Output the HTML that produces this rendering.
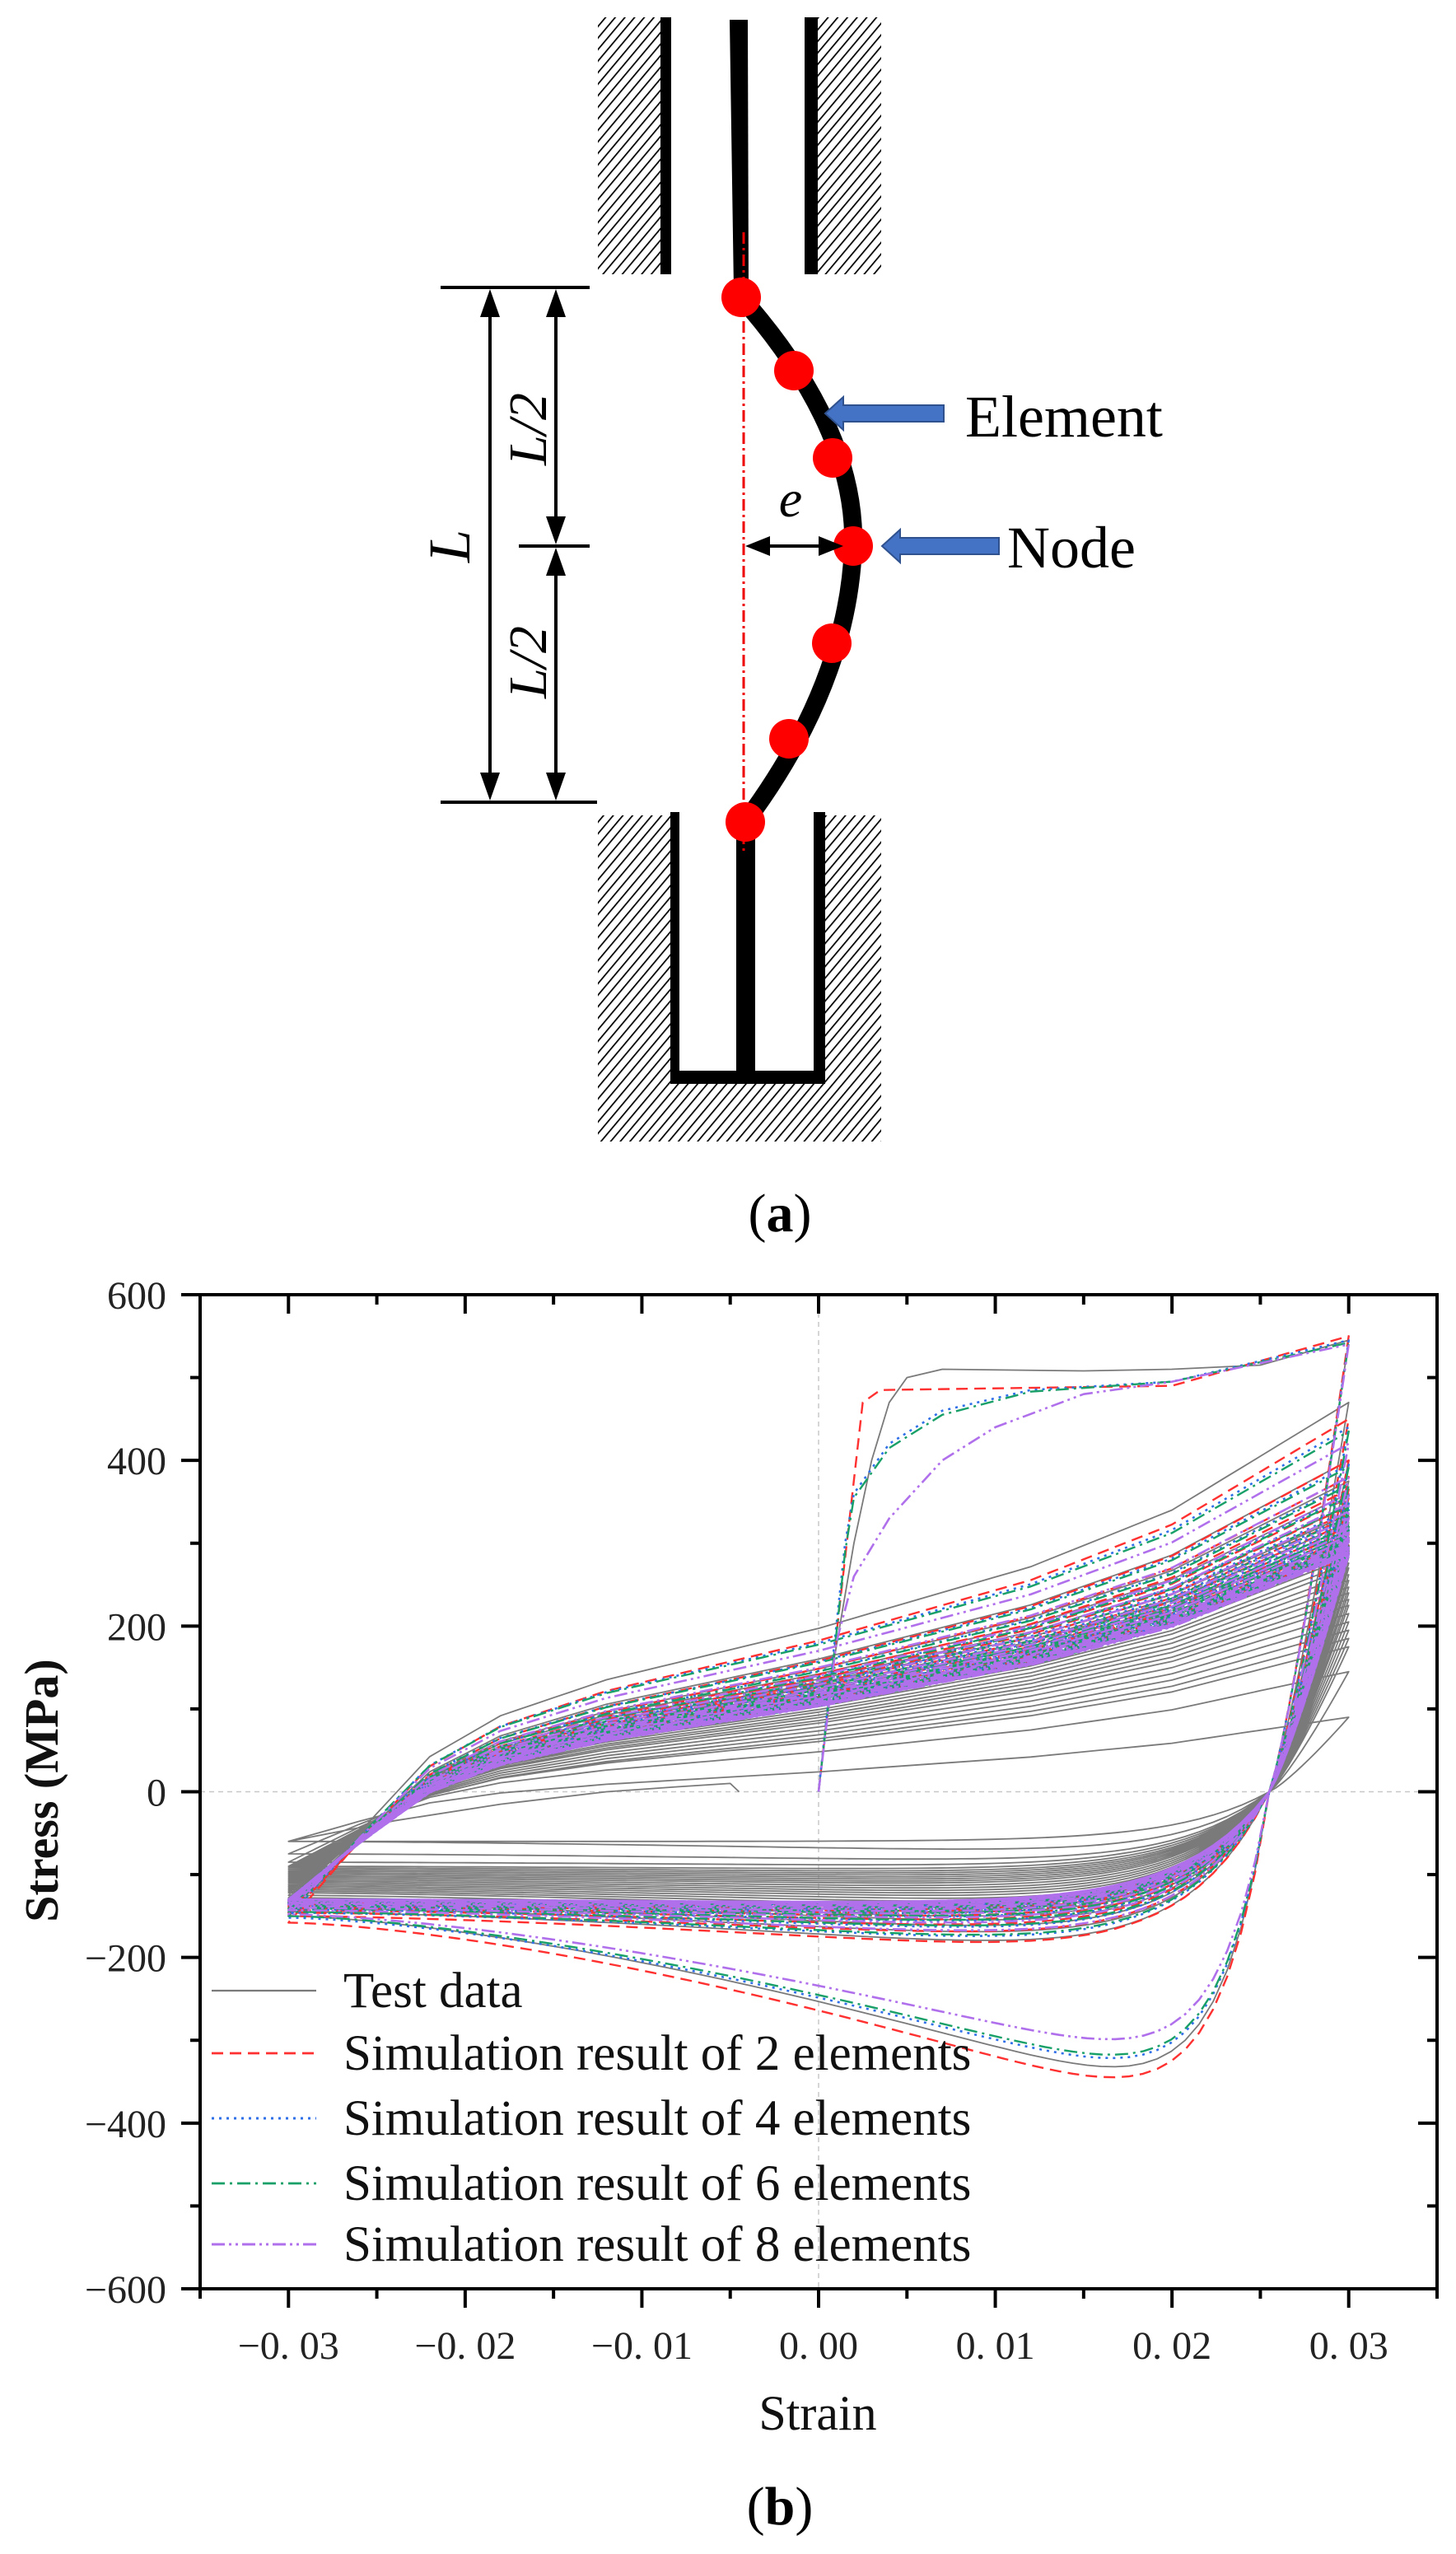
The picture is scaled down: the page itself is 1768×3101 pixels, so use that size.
<!DOCTYPE html>
<html><head><meta charset="utf-8"><title>Buckling element model and hysteresis</title>
<style>html,body{margin:0;padding:0;background:#fff}svg{display:block}</style></head>
<body>
<svg id="fig" width="1768" height="3101" viewBox="0 0 1768 3101" xmlns="http://www.w3.org/2000/svg">
<defs>
<pattern id="hatch" patternUnits="userSpaceOnUse" width="9" height="9" patternTransform="rotate(40)">
<rect width="9" height="9" fill="#fff"/><line x1="0" y1="0" x2="0" y2="9" stroke="#000" stroke-width="3.5"/>
</pattern>
</defs>
<rect width="1768" height="3101" fill="#fff"/>

<!-- Panel (a) -->
<g>
<rect x="726" y="21" width="78" height="312" fill="url(#hatch)"/>
<rect x="993" y="21" width="77" height="312" fill="url(#hatch)"/>
<rect x="802" y="21" width="13" height="312" fill="#000"/>
<rect x="977" y="21" width="16" height="312" fill="#000"/>
<polygon points="886,24 908,24 909,352 891,352" fill="#000"/>
<rect x="726" y="990" width="344" height="396" fill="url(#hatch)"/>
<rect x="824" y="980" width="164" height="320" fill="#fff"/>
<rect x="814" y="986" width="11" height="330" fill="#000"/>
<rect x="988" y="986" width="14" height="330" fill="#000"/>
<rect x="814" y="1300" width="188" height="16" fill="#000"/>
<rect x="894" y="998" width="23" height="310" fill="#000"/>
<path d="M900 361 Q 1040 520 1036 663 Q 1030 830 905 998" fill="none" stroke="#000" stroke-width="22"/>
<line x1="903" y1="282" x2="903" y2="1034" stroke="#e00" stroke-width="3" stroke-dasharray="14,5,3,5"/>
<g fill="#ff0000">
<circle cx="900" cy="361" r="24"/>
<circle cx="964" cy="450" r="24"/>
<circle cx="1011" cy="556" r="24"/>
<circle cx="1036" cy="663" r="24"/>
<circle cx="1010" cy="781" r="24"/>
<circle cx="958" cy="897" r="24"/>
<circle cx="905" cy="998" r="24"/>
</g>
<g stroke="#000" stroke-width="4">
<line x1="535" y1="349" x2="716" y2="349"/>
<line x1="535" y1="974" x2="725" y2="974"/>
<line x1="630" y1="663" x2="716" y2="663"/>
<line x1="595" y1="360" x2="595" y2="963"/>
<line x1="675" y1="360" x2="675" y2="652"/>
<line x1="675" y1="674" x2="675" y2="963"/>
<line x1="915" y1="663" x2="1015" y2="663"/>
</g>
<g fill="#000">
<polygon points="595,351 583,385 607,385"/><polygon points="595,972 583,938 607,938"/>
<polygon points="675,351 663,385 687,385"/><polygon points="675,661 663,627 687,627"/>
<polygon points="675,665 663,699 687,699"/><polygon points="675,972 663,938 687,938"/>
<polygon points="905,663 935,651 935,675"/><polygon points="1024,663 994,651 994,675"/>
</g>
<text transform="translate(570,663) rotate(-90)" text-anchor="middle" font-family="Liberation Serif, serif" font-style="italic" font-size="72">L</text>
<text transform="translate(663,521) rotate(-90)" text-anchor="middle" font-family="Liberation Serif, serif" font-style="italic" font-size="66">L/2</text>
<text transform="translate(663,804) rotate(-90)" text-anchor="middle" font-family="Liberation Serif, serif" font-style="italic" font-size="66">L/2</text>
<text x="960" y="627" text-anchor="middle" font-family="Liberation Serif, serif" font-style="italic" font-size="64">e</text>
<polygon points="1002,502 1024,482 1024,492 1146,492 1146,512 1024,512 1024,522" fill="#4472c4" stroke="#2f528f" stroke-width="2"/>
<polygon points="1071,663 1093,643 1093,653 1213,653 1213,673 1093,673 1093,683" fill="#4472c4" stroke="#2f528f" stroke-width="2"/>
<text x="1172" y="530" font-family="Liberation Serif, serif" font-size="72">Element</text>
<text x="1223" y="689" font-family="Liberation Serif, serif" font-size="72">Node</text>
<text x="947" y="1495" text-anchor="middle" font-family="Liberation Serif, serif" font-size="66">(<tspan font-weight="bold">a</tspan>)</text>
</g>

<!-- Panel (b) -->
<g id="chart"></g>
<text x="947" y="3065" text-anchor="middle" font-family="Liberation Serif, serif" font-size="66">(<tspan font-weight="bold">b</tspan>)</text>
</svg>
<script>
// ---- chart data ----
const xTicks = [-0.03, -0.02, -0.01, 0.00, 0.01, 0.02, 0.03];
const xTickLabels = ["\u22120. 03", "\u22120. 02", "\u22120. 01", "0. 00", "0. 01", "0. 02", "0. 03"];
const yTicks = [600, 400, 200, 0, -200, -400, -600];
const yTickLabels = ["600", "400", "200", "0", "\u2212200", "\u2212400", "\u2212600"];
const seriesNames = ["Test data", "Simulation result of 2 elements", "Simulation result of 4 elements", "Simulation result of 6 elements", "Simulation result of 8 elements"];

// monotonic first loading [strain, stress]
const testMono = [[0,0],[0.0008,150],[0.002,300],[0.003,400],[0.004,470],[0.005,500],[0.007,510],[0.015,508],[0.02,510],[0.025,515],[0.03,545]];
const sim2Mono = [[0,0],[0.0025,470],[0.0035,485],[0.02,490],[0.03,550]];
const sim4Mono = [[0,0],[0.001,200],[0.0015,300],[0.002,360],[0.004,420],[0.007,460],[0.012,485],[0.02,495],[0.03,545]];
const sim6Mono = [[0,0],[0.001,190],[0.0015,290],[0.002,355],[0.004,415],[0.007,455],[0.012,483],[0.02,495],[0.03,542]];
const sim8Mono = [[0,0],[0.001,180],[0.002,260],[0.004,330],[0.007,400],[0.01,440],[0.015,480],[0.02,495],[0.03,540]];

// stress at strain 0.03 for each cycle (first = end of monotonic loading)
const testPeaks = [545,470,400,375,360,345,335,325,315,305,298,290,283,276,270,262,255,247,240,232,225,215,205,195,185,175,145,90];
const sim2Peaks = [550,450,400,380,365,355,345,338,332,326,320,315,311,307,303,300,297,295,293,291,290,289,288];
const sim4Peaks = [545,440,395,372,358,348,340,333,327,321,316,312,308,305,302,299,297,295,293,291,290,289,288];
const sim6Peaks = [542,435,392,370,356,346,338,331,325,320,315,311,307,304,301,298,296,294,292,290,289,288,287];
const sim8Peaks = [540,420,380,360,348,338,330,324,318,313,309,305,302,299,297,295,293,291,290,289,288,287,286];

// compression plateau level of each unloading branch
const testLow = [-410,-215,-200,-190,-182,-175,-168,-162,-156,-150,-145,-140,-136,-132,-128,-124,-120,-117,-114,-111,-108,-105,-102,-98,-94,-90,-80,-60];
const sim2Low = [-425,-215,-195,-182,-172,-165,-160,-156,-153,-150,-148,-146,-145,-144,-143,-142,-142,-141,-141,-140,-140,-140,-140];
const sim4Low = [-395,-205,-188,-176,-168,-162,-157,-154,-151,-149,-147,-146,-145,-144,-143,-142,-142,-141,-141,-140,-140,-140,-140];
const sim6Low = [-390,-203,-186,-175,-167,-161,-157,-153,-151,-149,-147,-145,-144,-143,-142,-142,-141,-141,-140,-140,-140,-140,-140];
const sim8Low = [-365,-195,-180,-170,-163,-158,-154,-151,-149,-147,-145,-144,-143,-142,-141,-141,-140,-140,-140,-139,-139,-139,-139];

// stress at strain -0.03 at the end of each unloading branch
const testStart = [-150,-145,-140,-135,-130,-128,-125,-122,-120,-118,-116,-114,-112,-110,-108,-106,-104,-102,-100,-98,-96,-94,-92,-90,-85,-75,-60,-60];
const sim2Start = [-158,-150,-146,-143,-141,-139,-137,-136,-135,-134,-133,-132,-132,-131,-131,-130,-130,-130,-130,-130,-130,-130,-130];
const sim4Start = [-152,-146,-142,-140,-138,-136,-135,-134,-133,-132,-132,-131,-131,-130,-130,-130,-130,-130,-130,-130,-130,-130,-130];
const sim6Start = [-150,-145,-141,-139,-137,-136,-135,-134,-133,-132,-131,-131,-130,-130,-130,-130,-130,-130,-130,-130,-130,-130,-130];
const sim8Start = [-148,-143,-140,-138,-136,-135,-134,-133,-132,-131,-131,-130,-130,-130,-130,-130,-130,-130,-130,-130,-130,-130,-130];

const testFinal = [[-0.03,-60],[-0.024,-35],[-0.018,-15],[-0.012,0],[-0.008,6],[-0.005,10],[-0.0045,0]];

// normalised shape of reloading branch (fraction of strain range, fraction of stress range)
const upKnotT = [0, 0.07, 0.133, 0.2, 0.3, 0.5, 0.7, 0.833, 1];
const upKnotF = [0, 0.17, 0.31, 0.39, 0.46, 0.56, 0.68, 0.79, 1];

// ---- axes ----
const PL = 243, PR = 1745, PT = 1572, PB = 2779;
const XMIN = -0.035, XMAX = 0.035, YMIN = -600, YMAX = 600;
function X(s){ return PL + (s - XMIN) / (XMAX - XMIN) * (PR - PL); }
function Y(v){ return PB - (v - YMIN) / (YMAX - YMIN) * (PB - PT); }

const NS = 'http://www.w3.org/2000/svg';
const chart = document.getElementById('chart');
function mk(tag, attrs, parent){
  const e = document.createElementNS(NS, tag);
  for (const k in attrs) e.setAttribute(k, attrs[k]);
  (parent || chart).appendChild(e);
  return e;
}

let g0 = mk('line', {x1:X(0), y1:PT, x2:X(0), y2:PB, stroke:'#c8c8c8', 'stroke-width':1.5, 'stroke-dasharray':'6,5'});


let g1 = mk('line', {x1:PL, y1:Y(0), x2:PR, y2:Y(0), stroke:'#c8c8c8', 'stroke-width':1.5, 'stroke-dasharray':'6,5'});



function fUp(t){
  for (let i=1;i<upKnotT.length;i++){
    if (t <= upKnotT[i]){
      const a = (t - upKnotT[i-1]) / (upKnotT[i] - upKnotT[i-1]);
      return upKnotF[i-1] + a*(upKnotF[i]-upKnotF[i-1]);
    }
  }
  return 1;
}
function upperPts(c0, tp){
  const p = [];
  for (let i=0;i<=60;i++){ const t=i/60; p.push([-0.03+0.06*t, c0+(tp-c0)*fUp(t)]); }
  return p;
}
function lowerPts(tp, L, cEnd){
  const p = [], z = 0.0255;
  const tau = L < -300 ? 0.003 : 0.005;
  for (let i=0;i<=12;i++){ const s = 0.03 - 0.0045*i/12; p.push([s, tp*Math.pow((s-z)/0.0045,1.2)]); }
  for (let i=1;i<=70;i++){
    const s = z - (z+0.03)*i/70;
    const Lp = cEnd + (L-cEnd)*Math.pow((s+0.03)/(z+0.03),1.5);
    p.push([s, Lp*(1-Math.exp(-(z-s)/tau))]);
  }
  return p;
}
function buildPath(mono, peaks, lows, starts, tail){
  let pts = mono.slice();
  for (let k=0;k<peaks.length;k++){
    const cEnd = starts[Math.min(k, starts.length-1)];
    pts = pts.concat(lowerPts(peaks[k], lows[k], cEnd));
    if (k+1 < peaks.length) pts = pts.concat(upperPts(cEnd, peaks[k+1]));
  }
  if (tail) pts = pts.concat(tail);
  return 'M' + pts.map(p => X(p[0]).toFixed(1)+' '+Y(p[1]).toFixed(1)).join(' L');
}

const styles = [
  {stroke:'#7a7a7a', dash:'', w:1.8},
  {stroke:'#ff3030', dash:'14,8', w:2.4},
  {stroke:'#2f6fe8', dash:'3,6', w:2.6},
  {stroke:'#18a068', dash:'16,6,3,6', w:2.4},
  {stroke:'#b070ec', dash:'16,5,3,5,3,5', w:2.6}
];
const seriesData = [
  [testMono, testPeaks, testLow, testStart, testFinal],
  [sim2Mono, sim2Peaks, sim2Low, sim2Start, null],
  [sim4Mono, sim4Peaks, sim4Low, sim4Start, null],
  [sim6Mono, sim6Peaks, sim6Low, sim6Start, null],
  [sim8Mono, sim8Peaks, sim8Low, sim8Start, null]
];
const seriesKeys = ['test-data-curve','sim-2-elements-curve','sim-4-elements-curve','sim-6-elements-curve','sim-8-elements-curve'];
seriesData.forEach((d, i) => {
  const st = styles[i];
  const a = {d: buildPath(d[0], d[1], d[2], d[3], d[4]), fill:'none', stroke:st.stroke, 'stroke-width':st.w, 'stroke-linejoin':'round'};
  if (st.dash) a['stroke-dasharray'] = st.dash;
  const p = mk('path', a);
  
  
});

const fr = mk('rect', {x:PL, y:PT, width:PR-PL, height:PB-PT, fill:'none', stroke:'#000', 'stroke-width':4});



for (let v=-0.035; v<=0.0351; v+=0.005){
  const major = Math.abs(Math.round(v*100) - v*100) < 1e-6;
  const len = major ? 23 : 12;
  const x = X(v);
  const tb = mk('line', {x1:x, y1:PB, x2:x, y2:PB+len, stroke:'#000', 'stroke-width':4});
  
  
  const tt = mk('line', {x1:x, y1:PT, x2:x, y2:PT+len, stroke:'#000', 'stroke-width':4});
  
  
}
xTicks.forEach((v,i) => {
  const t = mk('text', {x:X(v), y:2864, 'text-anchor':'middle', 'font-family':'Liberation Serif, serif', 'font-size':48, fill:'#222'});
  t.textContent = xTickLabels[i];
  
  
});
for (let v=-600; v<=600; v+=100){
  const major = v % 200 === 0;
  const len = major ? 23 : 12;
  const y = Y(v);
  const tl = mk('line', {x1:PL-len, y1:y, x2:PL, y2:y, stroke:'#000', 'stroke-width':4});
  
  
  const tr = mk('line', {x1:PR-len, y1:y, x2:PR, y2:y, stroke:'#000', 'stroke-width':4});
  
  
}
yTicks.forEach((v,i) => {
  const t = mk('text', {x:202, y:Y(v)+17, 'text-anchor':'end', 'font-family':'Liberation Serif, serif', 'font-size':48, fill:'#222'});
  t.textContent = yTickLabels[i];
  
  
});
const xt = mk('text', {x:993, y:2950, 'text-anchor':'middle', 'font-family':'Liberation Serif, serif', 'font-size':60, fill:'#111'});
xt.textContent = 'Strain';


const yt = mk('text', {transform:'translate(70,2174) rotate(-90)', 'text-anchor':'middle', 'font-family':'Liberation Serif, serif', 'font-weight':'bold', 'font-size':58, fill:'#111'});
yt.textContent = 'Stress (MPa)';



const legendY = [2417, 2493, 2572, 2651, 2725];
seriesNames.forEach((n, i) => {
  const st = styles[i];
  const a = {x1:257, y1:legendY[i], x2:384, y2:legendY[i], stroke:st.stroke, 'stroke-width':st.w+0.4};
  if (st.dash) a['stroke-dasharray'] = st.dash;
  const l = mk('line', a);
  
  
  const t = mk('text', {x:417, y:legendY[i]+20, 'font-family':'Liberation Serif, serif', 'font-size':61, fill:'#111'});
  t.textContent = n;
  
  
});
</script>
</body></html>
